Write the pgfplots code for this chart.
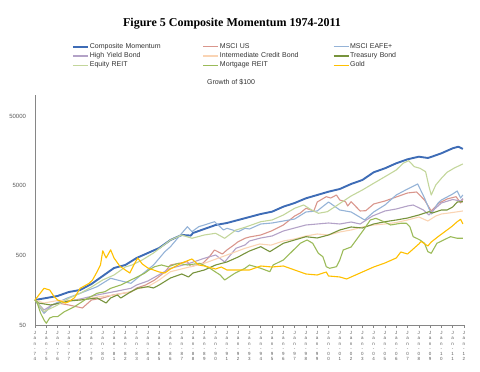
\documentclass[border=0pt]{standalone}
\usepackage{fontspec}
\setmainfont{Liberation Sans}
\newfontfamily\tnr{Liberation Serif}
\usepackage{pgfplots}
\pgfplotsset{compat=1.18}
\definecolor{cComp}{RGB}{62,108,182}
\definecolor{cUS}{RGB}{217,150,140}
\definecolor{cEAFE}{RGB}{149,179,215}
\definecolor{cHY}{RGB}{179,162,199}
\definecolor{cIC}{RGB}{250,212,180}
\definecolor{cTB}{RGB}{119,147,60}
\definecolor{cER}{RGB}{195,214,155}
\definecolor{cMR}{RGB}{155,187,89}
\definecolor{cGold}{RGB}{255,192,0}
\definecolor{axgray}{RGB}{134,134,134}
\definecolor{labgray}{RGB}{89,89,89}
\definecolor{txtgray}{RGB}{50,50,50}
\DeclareRobustCommand{\yl}[2]{J\\a\\n\\-\\#1\\#2}
\begin{document}
\begin{tikzpicture}
\useasboundingbox (0,0) rectangle (480pt,372pt);
\begin{axis}[
  at={(35pt,47pt)}, anchor=south west,
  scale only axis, width=429pt, height=230pt,
  xmin=1974, xmax=2012,
  ymode=log, ymin=50, ymax=100000,
  clip=false,
  axis x line*=bottom, axis y line*=left,
  axis line style={draw=axgray, line width=0.8pt},
  tick align=outside,
  major tick length=3pt,
  x tick style={draw=axgray, line width=0.6pt},
  y tick style={draw=none},
  yminorticks=false,
  /pgf/number format/assume math mode=true,
  ytick={50,500,5000,50000},
  yticklabels={50,500,5000,50000},
  yticklabel style={font=\fontsize{6}{7}\selectfont, text=labgray, xshift=-2.5pt},
  xtick={1974,1975,...,2012},
  xticklabels={\yl74,\yl75,\yl76,\yl77,\yl78,\yl79,\yl80,\yl81,\yl82,\yl83,\yl84,\yl85,\yl86,\yl87,\yl88,\yl89,\yl90,\yl91,\yl92,\yl93,\yl94,\yl95,\yl96,\yl97,\yl98,\yl99,\yl00,\yl01,\yl02,\yl03,\yl04,\yl05,\yl06,\yl07,\yl08,\yl09,\yl10,\yl11,\yl12},
  xticklabel style={font=\fontsize{4.5}{5.2}\selectfont, text=labgray, align=center},
  no markers,
  every axis plot/.append style={line join=round, line width=1.1pt},
  legend columns=3,
  legend cell align=left,
  legend image code/.code={\draw[#1] (0pt,0pt) -- (15pt,0pt);},
  legend style={at={(rel axis cs:0.0862,1.2304)}, anchor=north west,
    draw=none, fill=none, inner sep=0pt, outer sep=0pt,
    font=\fontsize{7}{8}\selectfont, text=txtgray,
    column sep=0pt, row sep=0pt,
    /tikz/every even column/.append style={column sep=2pt},
    nodes={text width=110pt, align=left, inner xsep=1pt, inner ysep=1.4pt, text height=5pt, text depth=1.5pt}},
]
\addplot[color=cComp, line width=1.9pt] coordinates {(1974,114.2)(1975,122.0)(1976,130.4)(1977,148.8)(1978,159.0)(1979,193.9)(1980,252.6)(1981,328.9)(1982,363.3)(1983,457.8)(1984,540.0)(1985,637.0)(1986,830.0)(1987,979)(1987.8,960)(1988,1046)(1989,1194)(1990,1362)(1991,1455)(1992,1607)(1993,1774)(1994,1960)(1995,2115)(1996,2495)(1997,2818)(1998,3292)(1999,3672)(2000,4095)(2001,4477)(2002,5282)(2003,6028)(2004,7774)(2005,8873)(2006,10468)(2007,11947)(2008,13019)(2008.8,12471)(2009,12763)(2010,14568)(2011,17183)(2011.5,18118)(2011.9,16792)};
\addlegendentry{Composite Momentum}
\addplot[color=cUS] coordinates {(1974,114.2)(1974.8,74.3)(1975.5,96.83)(1976,103.4)(1977,96.83)(1978.2,87.7)(1979,114.2)(1980,122.0)(1980.9,134.8)(1982.5,148.8)(1983,169.9)(1983.8,187.6)(1984.6,221.3)(1985.5,288.2)(1986,363.3)(1987.5,405.2)(1987.8,343.4)(1988.9,388.1)(1989.5,489.1)(1989.9,596.3)(1990.6,522.5)(1991,596.3)(1991.5,680.6)(1992,784.7)(1992.6,877.9)(1993,916.5)(1994,979)(1995,1128)(1996,1362)(1997,1834)(1997.5,2025)(1998,2366)(1998.7,2164)(1999,2913)(1999.8,3471)(2000.2,3324)(2000.7,3672)(2001,3112)(2001.5,2942)(2001.7,2553)(2002,2942)(2002.8,2164)(2003.3,2185)(2004,2727)(2005,3011)(2006,3436)(2007,3923)(2007.8,4055)(2008.5,3112)(2009.1,2164)(2009.8,2818)(2010.5,3217)(2011.3,3471)(2011.7,2818)(2011.9,3217)};
\addlegendentry{MSCI US}
\addplot[color=cEAFE] coordinates {(1974,114.2)(1974.8,73.6)(1975.5,96.8)(1976.8,120.8)(1978,142.6)(1979.5,177.3)(1980.7,234.1)(1981.9,209.2)(1982.5,198.4)(1983.4,261.0)(1984.5,363.3)(1985.5,563.7)(1986,665.0)(1987,1035.6)(1987.5,1288)(1987.9,1092)(1988.5,1288)(1989,1362)(1989.9,1519)(1990.7,1155)(1991,1222)(1992,1092)(1992.6,1222)(1993,1194)(1994,1408)(1995,1455)(1996,1554)(1997,1661)(1998,2094)(1999,2164)(2000,2913)(2001,2236)(2002,2094)(2003.2,1607)(2004,2094)(2005,2638)(2006,3672)(2007,4477)(2007.9,5282)(2008.5,3324)(2009.1,1960)(2009.7,2818)(2010,3112)(2011,3795)(2011.4,4191)(2011.7,3324)(2011.9,3672)};
\addlegendentry{MSCI EAFE+}
\addplot[color=cHY] coordinates {(1974,114.2)(1974.8,82.1)(1975.5,96.83)(1976.6,108.0)(1978,118.1)(1979.5,134.8)(1981,150.3)(1982.5,168.2)(1983,187.6)(1984,214.1)(1986,325.6)(1987.5,375.5)(1989,453.3)(1990,505.5)(1990.8,401.2)(1991.8,630.7)(1992.6,703.6)(1993,803.0)(1994,886.7)(1995,947.3)(1996,1117)(1997,1234)(1998,1362)(1999,1408)(2000,1455)(2001,1408)(2002,1504)(2002.8,1408)(2003.9,1834)(2005,2164)(2006,2312)(2007,2553)(2007.5,2638)(2008.4,2236)(2008.9,1896)(2009.3,2236)(2010,2818)(2011,3163)(2011.7,3011)(2011.9,3269)};
\addlegendentry{High Yield Bond}
\addplot[color=cIC] coordinates {(1974,114.2)(1974.8,103.4)(1976,112.3)(1978,114.2)(1979.5,126.1)(1981,134.8)(1982.5,150.3)(1983,164.4)(1984,177.3)(1985,221.3)(1986,291.1)(1989,384.3)(1991.8,563.7)(1992.6,630.7)(1993,658.5)(1993.9,727.2)(1994.9,700)(1996,803.0)(1997,857.9)(1998,947.3)(1999,1011.9)(2000,979)(2001,1081)(2002,1154.8)(2003,1275)(2004,1362)(2005,1408)(2006,1479)(2007,1607)(2008,1774)(2008.8,1554)(2009.5,1834)(2010,1960)(2011,2059)(2011.9,2164)};
\addlegendentry{Intermediate Credit Bond}
\addplot[color=cTB] coordinates {(1974,114.2)(1974.3,103.4)(1975.4,96.83)(1977,110.5)(1978,114.2)(1979.5,122.0)(1980.3,103.4)(1980.7,122.0)(1981.3,134.8)(1981.6,122.0)(1982.5,150.3)(1983.1,168.2)(1984,177.3)(1984.5,169.9)(1985,187.6)(1986,236.4)(1987,269.8)(1987.6,244.4)(1988,278.8)(1989,307.9)(1990,363.3)(1991,401.2)(1992,473.2)(1992.6,534.7)(1993,576.9)(1994,665.0)(1994.8,563.7)(1996,744.3)(1997,830.0)(1998,925.7)(1999,886.7)(2000,979)(2001,1154.8)(2002,1275)(2003,1234)(2004,1408)(2005,1519)(2006,1607)(2007,1716)(2008,1896)(2008.9,2114)(2009.2,2025)(2010,2236)(2010.5,2236)(2011,2470)(2011.4,2913)(2011.9,2942)};
\addlegendentry{Treasury Bond}
\addplot[color=cER] coordinates {(1974,114.2)(1974.8,77.6)(1976,96.83)(1977,120.8)(1978,142.6)(1979,175.6)(1980,221.3)(1981,261.0)(1982,340.0)(1982.6,363.3)(1983.5,428.5)(1984.5,540.0)(1986,830.0)(1987,979)(1987.9,877.9)(1989,979)(1990,1035.6)(1990.8,877.9)(1991.8,1154.8)(1992.6,1262.6)(1994,1519)(1995,1607)(1996,1896)(1997,2366)(1997.8,2638)(1998.5,2236)(1999.1,2006)(1999.9,2114)(2000.8,2638)(2002,3552)(2003,4332)(2004,5405)(2005,6723)(2006,8388)(2006.6,10468)(2007.1,11406)(2007.6,9355)(2008.1,8873)(2008.6,7930)(2008.9,4831)(2009.1,3672)(2009.5,5110)(2010,6376)(2010.5,7774)(2011.1,8873)(2011.7,9896)(2011.9,10229)};
\addlegendentry{Equity REIT}
\addplot[color=cMR] coordinates {(1974,114.2)(1974.2,103.4)(1974.5,73.6)(1974.8,58.98)(1975,52.9)(1975.3,63.0)(1975.6,65.8)(1976,65.8)(1976.6,77.6)(1977.5,91.5)(1978.4,114.2)(1979.5,142.6)(1980.2,150.3)(1980.7,168.2)(1981.6,187.6)(1982.5,221.3)(1983.1,246.8)(1983.7,276.1)(1984.1,307.9)(1984.6,343.4)(1985.2,363.3)(1985.8,343.4)(1986.7,384.3)(1987.5,363.3)(1988.6,384.3)(1989.5,325.6)(1990.4,261.0)(1990.8,221.3)(1991.7,276.1)(1992.6,325.6)(1993,363.3)(1994,325.6)(1994.8,291.1)(1995.1,363.3)(1996,428.5)(1996.9,596.3)(1997.5,744.3)(1998.1,830.0)(1998.6,744.3)(1999.1,534.7)(1999.5,478.0)(1999.8,343.4)(2000.1,325.6)(2000.7,343.4)(2001,428.5)(2001.3,596.3)(2002,658.5)(2003.1,1154.8)(2003.7,1607)(2004.2,1699)(2004.9,1519)(2005.5,1362)(2006.4,1441)(2006.9,1441)(2007.2,1288)(2007.5,925.7)(2007.8,877.9)(2008.1,830.0)(2008.5,744.3)(2008.8,563.7)(2009.1,534.7)(2009.6,744.3)(2010.2,830.0)(2010.8,925.7)(2011.4,877.9)(2011.9,877.9)};
\addlegendentry{Mortgage REIT}
\addplot[color=cGold] coordinates {(1974,114.2)(1974.8,168.2)(1975.3,159.0)(1975.7,127.4)(1976,114.2)(1976.7,103.4)(1977,108.0)(1977.5,123.2)(1978,168.2)(1978.8,198.4)(1979.1,221.3)(1979.5,291.1)(1979.8,363.3)(1980.0,580)(1980.3,457.8)(1980.7,600)(1981,457.8)(1981.5,351.4)(1982,307.9)(1982.4,278.8)(1982.8,375.5)(1983.1,457.8)(1983.5,375.5)(1984,328.9)(1985,288.2)(1985.5,278.8)(1986,318.2)(1987,388.1)(1987.9,443.0)(1988.5,363.3)(1989,351.4)(1990,318.2)(1990.5,340.0)(1991,307.9)(1992,307.9)(1993,307.9)(1994,351.4)(1995,340.0)(1996,351.4)(1997,307.9)(1998,269.8)(1999,261.0)(1999.8,288.2)(2000,252.6)(2001,244.4)(2001.6,228.7)(2002,244.4)(2003,288.2)(2004,340.0)(2005,388.1)(2006,457.8)(2006.4,558.2)(2007,522.5)(2008,727.2)(2008.2,789.9)(2008.8,680.6)(2009.1,776.9)(2009.7,925.7)(2010.3,1092)(2010.9,1288)(2011.4,1519)(2011.7,1644)(2011.9,1408)};
\addlegendentry{Gold}
\node[font=\tnr\bfseries\fontsize{12}{14}\selectfont] at (rel axis cs:0.4592,1.3087) {Figure 5 Composite Momentum 1974-2011};
\node[font=\fontsize{7}{8}\selectfont, text=txtgray] at (rel axis cs:0.4569,1.0578) {Growth of \$100};
\end{axis}
\end{tikzpicture}
\end{document}
